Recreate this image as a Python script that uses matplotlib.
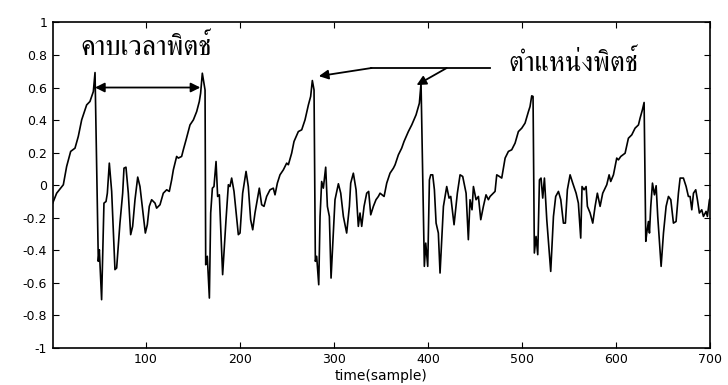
import matplotlib
matplotlib.use("Agg")
import matplotlib.pyplot as plt
import numpy as np

# speech frame, one list pair per pitch period
t1 = [1, 5.2, 12.3, 15.8, 20.1, 24.7, 28.2, 31.8, 37.1, 40.6, 44.2, 46.0,
      49.5, 50.6, 53.0, 55.5, 57.7, 59.1, 61.2, 63.7, 67.2, 69.0, 72.5, 75.4,
      76.8, 78.9, 81.4, 83.9, 86.0, 88.5, 91.4, 93.8, 97.4, 99.5, 101.6, 103.7,
      106.2, 109.8, 111.5]
v1 = [-0.111, -0.050, 0.002, 0.114, 0.207, 0.227, 0.299, 0.401, 0.493, 0.514, 0.575, 0.692,
      -0.469, -0.398, -0.705, -0.111, -0.101, -0.050, 0.135, -0.039, -0.520, -0.510, -0.234, -0.050,
      0.104, 0.110, -0.050, -0.305, -0.254, -0.090, 0.049, -0.009, -0.193, -0.295, -0.244, -0.131,
      -0.090, -0.111, -0.142]

t2 = [115.1, 118.6, 122.2, 125.0, 127.5, 129.3, 132.8, 134.6, 138.1, 139.9, 142.8, 147.0,
      150.6, 154.1, 156.9, 158.3, 160.1, 163.0, 163.7, 165.4, 167.6, 169.0, 170.8, 172.5,
      174.7, 176.4, 178.2, 181.7, 185.3, 187.8, 189.5, 191.3, 193.8, 198.4, 200.2, 203.0,
      206.6, 209.0, 211.5, 213.7, 216.1, 220.7, 223.2, 225.7, 228.5]
v2 = [-0.121, -0.050, -0.029, -0.039, 0.032, 0.094, 0.176, 0.166, 0.176, 0.217, 0.278, 0.370,
      0.401, 0.452, 0.514, 0.565, 0.688, 0.585, -0.490, -0.438, -0.695, -0.172, -0.019, -0.009,
      0.145, -0.070, -0.060, -0.551, -0.213, 0.002, -0.009, 0.043, -0.039, -0.305, -0.295, -0.050,
      0.084, -0.009, -0.213, -0.275, -0.172, -0.019, -0.121, -0.131, -0.070]

t3 = [232.1, 235.6, 237.4, 239.9, 242.7, 246.3, 249.8, 251.6, 255.1, 257.6, 262.2, 265.8,
      269.3, 272.9, 275.3, 277.1, 278.9, 280.3, 281.7, 283.9, 285.3, 287.0, 288.8, 291.3,
      293.1, 295.2, 297.0, 301.2, 304.8, 307.3, 310.1, 313.6, 316.5, 317.9, 320.7, 323.6,
      326.0, 327.8, 329.6, 332.1, 334.9, 337.0, 339.2, 342.0, 344.8, 347.3]
v3 = [-0.029, -0.019, -0.060, 0.012, 0.063, 0.094, 0.135, 0.125, 0.196, 0.268, 0.329, 0.340,
      0.401, 0.493, 0.545, 0.643, 0.585, -0.469, -0.438, -0.613, -0.193, 0.022, -0.019, 0.110,
      -0.131, -0.193, -0.572, -0.090, 0.008, -0.050, -0.193, -0.295, -0.131, 0.012, 0.073, -0.029,
      -0.254, -0.172, -0.254, -0.131, -0.050, -0.039, -0.183, -0.131, -0.090, -0.070]

t4 = [349.1, 353.4, 356.2, 359.7, 363.3, 365.1, 368.6, 372.1, 374.6, 379.2, 382.8, 387.4,
      390.9, 392.7, 396.2, 397.7, 399.8, 401.6, 403.0, 405.1, 406.9, 408.7, 411.1, 412.9,
      416.5, 420.0, 422.5, 424.3, 427.8, 431.3, 434.2, 437.0, 440.6, 443.0, 444.8, 446.9,
      448.4, 451.2, 453.7, 456.2, 459.0, 461.8, 464.3]
v4 = [-0.050, -0.070, 0.012, 0.073, 0.104, 0.125, 0.186, 0.227, 0.268, 0.329, 0.370, 0.432,
      0.503, 0.626, -0.500, -0.357, -0.500, 0.032, 0.063, 0.063, -0.029, -0.234, -0.295, -0.541,
      -0.131, -0.009, -0.080, -0.070, -0.244, -0.050, 0.063, 0.053, -0.050, -0.336, -0.090, -0.152,
      -0.009, -0.090, -0.070, -0.213, -0.131, -0.060, -0.090]

t5 = [466.1, 469.6, 471.4, 473.2, 476.0, 478.5, 482.1, 485.6, 489.1, 492.7, 496.2, 499.8,
      503.3, 506.9, 508.6, 510.4, 511.8, 513.2, 515.0, 516.8, 518.6, 520.3, 522.1, 523.9,
      526.4, 530.6, 533.5, 535.9, 538.8, 541.3, 544.1, 546.2, 548.3, 551.2, 554.0, 557.6,
      560.0, 562.5, 563.9, 566.1, 568.2, 569.6, 572.5, 575.3, 577.8, 580.2]
v5 = [-0.070, -0.050, -0.039, 0.063, 0.053, 0.043, 0.166, 0.207, 0.217, 0.258, 0.329, 0.350,
      0.381, 0.452, 0.483, 0.549, 0.545, -0.418, -0.316, -0.428, 0.032, 0.043, -0.080, 0.043,
      -0.213, -0.531, -0.193, -0.070, -0.039, -0.090, -0.234, -0.234, -0.029, 0.063, 0.012, -0.050,
      -0.111, -0.326, -0.009, -0.029, -0.009, -0.131, -0.172, -0.234, -0.131, -0.050]

t6 = [583.1, 585.9, 588.4, 590.2, 592.7, 594.4, 597.3, 600.8, 602.6, 605.1, 609.7, 613.2,
      616.8, 620.3, 623.9, 625.6, 628.1, 629.9, 631.7, 632.7, 634.5, 635.6, 637.0, 638.8,
      640.9, 642.7, 644.4, 648.0, 650.5, 653.3, 655.8, 658.3, 661.1, 663.9, 666.4, 668.2,
      671.7, 674.6, 677.0, 678.8, 680.6, 682.4, 684.8, 686.6, 688.7, 691.2, 693.0, 695.8,
      697.2, 699.4, 700]
v6 = [-0.131, -0.050, -0.019, 0.002, 0.063, 0.022, 0.063, 0.166, 0.155, 0.176, 0.196, 0.288,
      0.309, 0.350, 0.370, 0.411, 0.463, 0.508, -0.346, -0.295, -0.224, -0.295, -0.131, 0.012,
      -0.060, -0.004, -0.193, -0.500, -0.295, -0.131, -0.070, -0.090, -0.234, -0.224, -0.050, 0.043,
      0.043, -0.009, -0.070, -0.070, -0.152, -0.050, -0.029, -0.090, -0.172, -0.152, -0.193, -0.162,
      -0.193, -0.090, -0.085]

t = t1 + t2 + t3 + t4 + t5 + t6
v = v1 + v2 + v3 + v4 + v5 + v6

yticks = [-1, -0.8, -0.6, -0.4, -0.2, 0, 0.2, 0.4, 0.6, 0.8, 1]
ylabels = ["-1", "-0.8", "-0.6", "-0.4", "-0.2", "0", "0.2", "0.4", "0.6", "0.8", "1"]
xticks = [100, 200, 300, 400, 500, 600, 700]

period_label = "คาบเวลาพิตช์"
pos_label = "ตำแหน่งพิตช์"

plt.rcParams['font.family'] = ['DejaVu Sans']

fig = plt.figure(figsize=(7.28, 3.85), dpi=100)
ax = fig.add_axes([0.0724, 0.097, 0.9029, 0.8446])

ax.plot(t, v, color='black', lw=1.2)

ax.set_xlim(1, 700)
ax.set_ylim(-1, 1)
ax.set_xticks(xticks)
ax.set_yticks(yticks)
ax.set_yticklabels(ylabels)
ax.tick_params(direction='in', top=True, right=True, length=4, width=0.8,
               labelsize=9, pad=4)
for sp in ax.spines.values():
    sp.set_linewidth(1.2)
ax.set_xlabel("time(sample)", fontsize=10, labelpad=2)

thai = ['FreeSerif', 'DejaVu Sans']

# pitch period: double arrow between two pitch marks
ax.annotate("", xy=(46, 0.60), xytext=(158, 0.60),
            arrowprops=dict(arrowstyle='<|-|>', color='black', lw=1.3,
                            mutation_scale=14, shrinkA=0, shrinkB=0))
ax.text(30, 0.845, period_label, family=thai, fontsize=20, va='center', ha='left')

# pitch positions
ax.plot([340, 466], [0.72, 0.72], color='black', lw=1.3)
ax.annotate("", xy=(284, 0.67), xytext=(340, 0.72),
            arrowprops=dict(arrowstyle='-|>', color='black', lw=1.3,
                            mutation_scale=14, shrinkA=0, shrinkB=0))
ax.annotate("", xy=(388, 0.615), xytext=(420, 0.72),
            arrowprops=dict(arrowstyle='-|>', color='black', lw=1.3,
                            mutation_scale=14, shrinkA=0, shrinkB=0))
ax.text(486, 0.745, pos_label, family=thai, fontsize=20, va='center', ha='left')

fig.savefig("out.png", dpi=100)
